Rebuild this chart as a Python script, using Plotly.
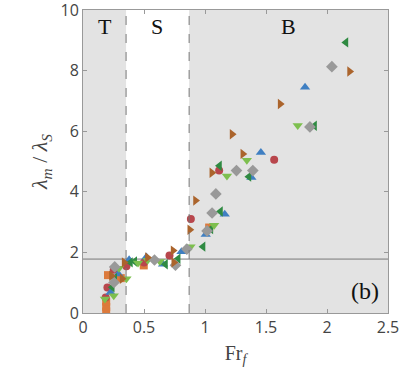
import plotly.graph_objects as go

# Froude number (x) and wavelength ratio (y) for each data set
sq_x = [0.19, 0.19, 0.19, 0.205, 0.31, 0.498, 1.034]
sq_y = [0.05, 0.2, 0.38, 1.25, 1.15, 1.57, 2.82]

ci_x = [0.186, 0.20, 0.252, 0.356, 0.50, 0.709, 0.884, 1.116, 1.567]
ci_y = [0.51, 0.84, 1.43, 1.54, 1.67, 1.90, 3.10, 4.70, 5.06]

up_x = [0.225, 0.29, 0.378, 0.52, 0.656, 0.807, 1.006, 1.162, 1.38, 1.458, 1.82]
up_y = [0.68, 1.29, 1.76, 1.85, 1.61, 2.02, 2.59, 3.26, 4.47, 5.3, 7.45]

lt_x = [0.24, 0.26, 0.389, 0.424, 0.676, 0.78, 0.984, 1.048, 1.127, 1.119, 1.36, 1.898, 2.155]
lt_y = [0.85, 1.15, 1.67, 1.70, 1.61, 1.79, 2.19, 2.77, 3.35, 4.86, 4.50, 6.18, 8.93]

dn_x = [0.18, 0.252, 0.295, 0.356, 0.451, 0.53, 0.63, 0.881, 1.075, 1.18, 1.343, 1.76]
dn_y = [0.46, 0.57, 1.48, 1.13, 1.65, 1.74, 1.70, 2.19, 2.90, 4.52, 5.04, 6.19]

di_x = [0.254, 0.26, 0.586, 0.758, 0.851, 1.017, 1.058, 1.089, 1.258, 1.392, 1.86, 2.04]
di_y = [1.01, 1.52, 1.75, 1.58, 2.11, 2.71, 3.30, 3.93, 4.70, 4.70, 6.14, 8.13]

rt_x = [0.233, 0.32, 0.337, 0.528, 0.744, 0.738, 0.875, 0.922, 1.056, 1.222, 1.31, 1.616, 2.185]
rt_y = [1.23, 1.13, 1.67, 1.83, 1.67, 2.06, 2.75, 3.71, 4.63, 5.9, 5.25, 6.9, 7.97]

# regime boundaries and plateau level
fr_ts = 0.353
fr_sb = 0.87
plateau = 1.78

series = [
    (sq_x, sq_y, "square", "#dc7a3c", 8),
    (ci_x, ci_y, "circle", "#b8464c", 8),
    (up_x, up_y, "triangle-up", "#3f7fc2", 9),
    (lt_x, lt_y, "triangle-left", "#2f8a42", 9),
    (dn_x, dn_y, "triangle-down", "#7dbf4e", 9),
    (di_x, di_y, "diamond", "#999999", 9),
    (rt_x, rt_y, "triangle-right", "#ab642c", 9),
]

fig = go.Figure()
for x, y, sym, col, sz in series:
    fig.add_trace(go.Scatter(x=x, y=y, mode="markers",
                             marker=dict(symbol=sym, color=col, size=sz, line=dict(width=0)),
                             showlegend=False))

shade = "#e3e3e3"
fig.add_shape(type="rect", x0=0, x1=fr_ts, y0=0, y1=10, fillcolor=shade, line_width=0, layer="below")
fig.add_shape(type="rect", x0=fr_sb, x1=2.5, y0=0, y1=10, fillcolor=shade, line_width=0, layer="below")
for xv in (fr_ts, fr_sb):
    fig.add_shape(type="line", x0=xv, x1=xv, y0=0, y1=10,
                  line=dict(color="#777777", width=1, dash="dash"))
fig.add_shape(type="line", x0=0, x1=2.5, y0=plateau, y1=plateau,
              line=dict(color="#777777", width=1), layer="below")

serif = "Liberation Serif"
for txt, xv in (("T", 0.178), ("S", 0.607), ("B", 1.685)):
    fig.add_annotation(x=xv, y=9.44, text=txt, showarrow=False,
                       font=dict(family=serif, size=22, color="#111111"))
fig.add_annotation(x=2.31, y=0.71, text="(b)", showarrow=False,
                   font=dict(family=serif, size=24, color="#111111"))

axis = dict(showgrid=False, zeroline=False, showline=True, linecolor="#999999",
            mirror="ticks", ticks="inside", ticklen=4, tickcolor="#999999",
            ticklabeloverflow="allow", automargin=False,
            tickfont=dict(family="Open Sans", size=16, color="#444444"))

fig.update_layout(
    width=399, height=369,
    margin=dict(l=83, r=11, t=10, b=56),
    paper_bgcolor="white", plot_bgcolor="white",
    xaxis=dict(range=[0, 2.5], tickvals=[0, 0.5, 1, 1.5, 2, 2.5],
               ticktext=["0", "0.5", "1", "1.5", "2", "2.5"],
               title=dict(text="Fr<sub><i>f</i></sub>", standoff=8,
                          font=dict(family=serif, size=20, color="#444444")),
               **axis),
    yaxis=dict(range=[0, 10], tickvals=[0, 2, 4, 6, 8, 10],
               title=dict(text="<i>λ<sub>m</sub></i> / <i>λ<sub>S</sub></i>", standoff=6,
                          font=dict(family=serif, size=22, color="#444444")),
               **axis),
)

fig.write_html("out.html", config={"displayModeBar": False},
               post_script="document.body.style.margin='0';")
